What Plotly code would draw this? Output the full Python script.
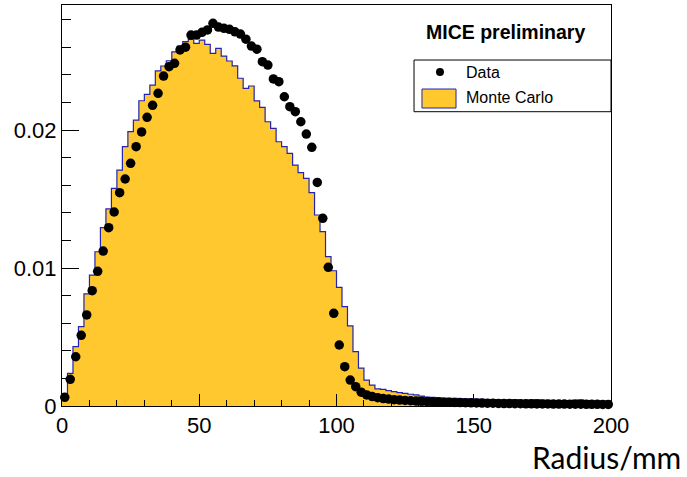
import numpy as np
import plotly.graph_objects as go

# ---- data (bin width 2 mm, 0..200 mm) ----
bin_edges = np.arange(0, 202, 2)
bin_centers = (bin_edges[:-1] + bin_edges[1:]) / 2

data_values = [
    0.00063, 0.00193, 0.00357, 0.00512, 0.0066, 0.00836, 0.00976, 0.01123, 0.01292, 0.01406,
    0.01546, 0.01645, 0.01759, 0.01879, 0.01986, 0.02092, 0.02179, 0.02266, 0.02391, 0.02459,
    0.02483, 0.0258, 0.026, 0.02688, 0.02688, 0.02708, 0.02725, 0.02773, 0.02746, 0.02737,
    0.0273, 0.02712, 0.02695, 0.02658, 0.02608, 0.02586, 0.02495, 0.02471, 0.0237, 0.0235,
    0.02241, 0.02169, 0.02133, 0.0206, 0.01971, 0.01875, 0.0162, 0.0136, 0.01005, 0.00672,
    0.00442, 0.00285, 0.00188, 0.0014, 0.001, 0.0008, 0.00068, 0.0006, 0.00054, 0.0005,
    0.00046, 0.00043, 0.0004, 0.00038, 0.00036, 0.00034, 0.00032, 0.0003, 0.00029, 0.00028,
    0.00027, 0.00026, 0.00025, 0.00024, 0.00023, 0.00022, 0.00021, 0.0002, 0.0002, 0.00019,
    0.00018, 0.00018, 0.00017, 0.00017, 0.00016, 0.00016, 0.00015, 0.00015, 0.00015, 0.00014,
    0.00014, 0.00014, 0.00013, 0.00013, 0.00013, 0.00012, 0.00012, 0.00012, 0.00011, 0.00011,
]

mc_values = [
    0.0009, 0.00237, 0.0043, 0.00575, 0.00812, 0.00949, 0.01118, 0.01292, 0.01428, 0.01577,
    0.0171, 0.01879, 0.01988, 0.02072, 0.02212, 0.02259, 0.02326, 0.02428, 0.02464, 0.02502,
    0.02567, 0.02609, 0.0264, 0.02657, 0.02628, 0.02652, 0.02621, 0.02556, 0.02592, 0.02536,
    0.025, 0.02465, 0.02375, 0.02302, 0.02319, 0.02211, 0.02164, 0.0206, 0.02012, 0.01915,
    0.01879, 0.01831, 0.01746, 0.01691, 0.0165, 0.01546, 0.01384, 0.01263, 0.01082, 0.0098,
    0.0086, 0.0072, 0.0058, 0.00394, 0.00275, 0.00188, 0.00152, 0.00124, 0.0012, 0.00111,
    0.00104, 0.00097, 0.00092, 0.00085, 0.0008, 0.00072, 0.00065, 0.00062, 0.0006, 0.00058,
    0.00056, 0.00055, 0.00053, 0.00052, 0.0005, 0.0005, 0.00048, 0.00047, 0.00046, 0.00045,
    0.00044, 0.00045, 0.00047, 0.00043, 0.00042, 0.00044, 0.00046, 0.00042, 0.00041, 0.0004,
    0.0004, 0.0004, 0.00039, 0.00043, 0.00044, 0.0004, 0.00038, 0.00037, 0.00036, 0.00036,
]

x_ticks = [0, 50, 100, 150, 200]
y_ticks = [0, 0.01, 0.02]

MC_FILL = "#FFC82E"
MC_LINE = "#2424B0"
FONT = "Liberation Sans, Arial, Helvetica, sans-serif"

fig = go.Figure()

# Monte Carlo histogram (step, filled)
fig.add_trace(go.Scatter(
    x=list(bin_edges),
    y=list(mc_values) + [mc_values[-1]],
    mode="lines",
    line=dict(shape="hv", color=MC_LINE, width=1.2),
    fill="tozeroy",
    fillcolor=MC_FILL,
    showlegend=False,
    hoverinfo="skip",
))

# Data points
fig.add_trace(go.Scatter(
    x=list(bin_centers),
    y=data_values,
    mode="markers",
    marker=dict(color="black", size=9.5, symbol="circle"),
    error_x=dict(type="constant", value=1, color="black", thickness=1, width=0),
    cliponaxis=False,
    showlegend=False,
))

fig.update_layout(
    width=687, height=477,
    margin=dict(l=62, r=76, t=5, b=71),
    paper_bgcolor="white", plot_bgcolor="white",
    font=dict(family=FONT, color="black", size=22),
    showlegend=False,
)

fig.update_xaxes(
    range=[0, 200], tickvals=x_ticks, ticktext=[str(v) for v in x_ticks],
    ticks="inside", ticklen=12, tickwidth=1, tickcolor="black",
    minor=dict(dtick=10, tick0=0, ticks="inside", ticklen=6, tickcolor="black", showgrid=False),
    showline=True, linecolor="black", linewidth=1, mirror=True,
    showgrid=False, zeroline=False,
    tickfont=dict(size=22, family=FONT),
)
fig.update_yaxes(
    range=[0, 0.02906], tickvals=y_ticks, ticktext=["0", "0.01", "0.02"],
    ticks="inside", ticklen=17, tickwidth=1, tickcolor="black",
    minor=dict(dtick=0.002, tick0=0, ticks="inside", ticklen=9, tickcolor="black", showgrid=False),
    showline=True, linecolor="black", linewidth=1, mirror=True,
    showgrid=False, zeroline=False,
    tickfont=dict(size=22, family=FONT),
)

# Legend box drawn manually (ROOT-like)
shapes = [
    dict(type="rect", xref="paper", yref="paper", x0=0.6412, x1=1.0, y0=0.7339, y1=0.8628,
         line=dict(color="black", width=1), fillcolor="white", layer="above"),
    dict(type="circle", xref="paper", yref="paper", xsizemode="pixel", ysizemode="pixel",
         xanchor=0.6885, yanchor=0.8329, x0=-4, x1=4, y0=-4, y1=4,
         fillcolor="black", line=dict(color="black", width=0), layer="above"),
    dict(type="rect", xref="paper", yref="paper", x0=0.6557, x1=0.7177, y0=0.7431, y1=0.7905,
         fillcolor=MC_FILL, line=dict(color=MC_LINE, width=1), layer="above"),
]
annotations = [
    dict(text="MICE preliminary", xref="paper", yref="paper", x=0.8087, y=0.9327,
         xanchor="center", yanchor="middle", showarrow=False,
         font=dict(family=FONT, size=19.5, color="black", weight="bold")),
    dict(text="Data", xref="paper", yref="paper", x=0.7322, y=0.8329,
         xanchor="left", yanchor="middle", showarrow=False,
         font=dict(family=FONT, size=16, color="black")),
    dict(text="Monte Carlo", xref="paper", yref="paper", x=0.7322, y=0.7681,
         xanchor="left", yanchor="middle", showarrow=False,
         font=dict(family=FONT, size=16, color="black")),
    dict(text="Radius/mm", xref="paper", yref="paper", x=1.131, y=-0.128,
         xanchor="right", yanchor="middle", showarrow=False,
         font=dict(family="Lato, sans-serif", size=30, color="black")),
]
fig.update_layout(shapes=shapes, annotations=annotations)

fig.write_html("out.html")
